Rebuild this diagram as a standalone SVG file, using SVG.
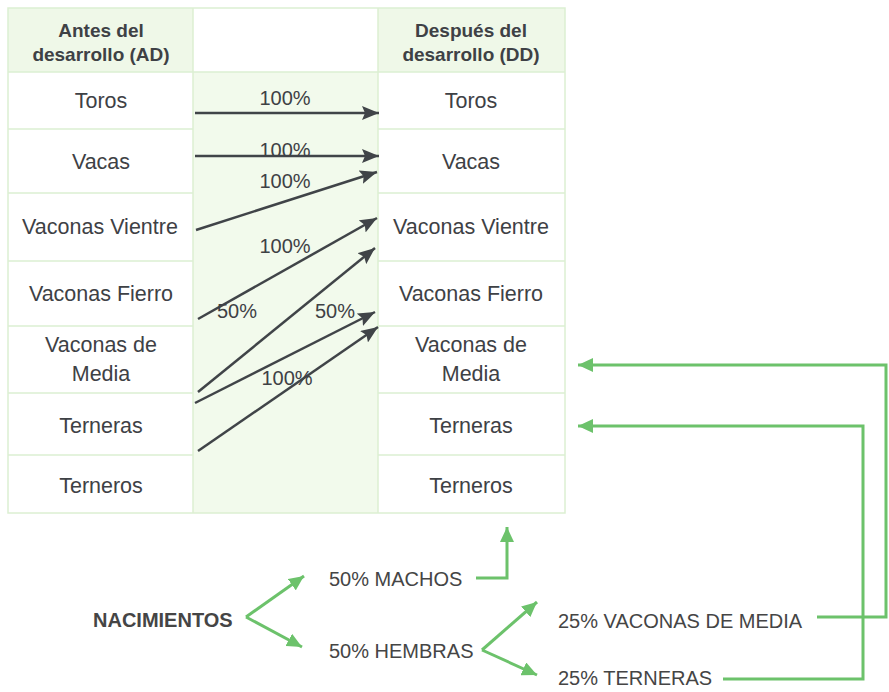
<svg xmlns="http://www.w3.org/2000/svg" width="889" height="692" viewBox="0 0 889 692">
<defs>
<style>
.cell{font-family:"Liberation Sans",Arial,sans-serif;font-size:21.5px;fill:#3e4145;text-anchor:middle}
.hdr{font-family:"Liberation Sans",Arial,sans-serif;font-size:19px;font-weight:bold;fill:#3e4145;text-anchor:middle}
.pct{font-family:"Liberation Sans",Arial,sans-serif;font-size:20px;fill:#3e4145;text-anchor:middle}
.lbl{font-family:"Liberation Sans",Arial,sans-serif;font-size:20px;fill:#454545}
.bold{font-weight:bold}
.grid{stroke:#dcefd2;stroke-width:1.5;fill:none}
.dark{stroke:#404448;stroke-width:2.5;fill:none;marker-end:url(#ah)}
.green{stroke:#6cc26b;stroke-width:3;fill:none;stroke-linejoin:miter;marker-end:url(#gh)}
</style>
<marker id="ah" markerUnits="userSpaceOnUse" markerWidth="18" markerHeight="14" viewBox="0 0 18 14" refX="17" refY="7" orient="auto">
<path d="M0,0 L17,7 L0,14 L3,7 Z" fill="#404448"/>
</marker>
<marker id="gh" markerUnits="userSpaceOnUse" markerWidth="16" markerHeight="14" viewBox="0 0 16 14" refX="15" refY="7" orient="auto">
<path d="M0,0 L15,7 L0,14 Z" fill="#6cc26b"/>
</marker>
</defs>
<rect width="889" height="692" fill="#ffffff"/>
<g id="table">
<rect x="8" y="8" width="185" height="64" fill="#eff8e8"/>
<rect x="378" y="8" width="187" height="64" fill="#eff8e8"/>
<rect x="193" y="72" width="185" height="441" fill="#f2faec"/>
<rect x="8" y="8" width="557" height="505" class="grid"/>
<line x1="193" y1="8" x2="193" y2="513" class="grid"/>
<line x1="378" y1="8" x2="378" y2="513" class="grid"/>
<path class="grid" d="M8,72H565 M8,129H193 M378,129H565 M8,193H193 M378,193H565 M8,261H193 M378,261H565 M8,326H193 M378,326H565 M8,393H193 M378,393H565 M8,455H193 M378,455H565"/>
</g>
<g id="ad-header"><text class="hdr" x="101" y="37">Antes del</text><text class="hdr" x="101" y="61">desarrollo (AD)</text></g>
<g id="dd-header"><text class="hdr" x="471" y="37">Después del</text><text class="hdr" x="471" y="61">desarrollo (DD)</text></g>
<g id="ad-toros"><text class="cell" x="101" y="108">Toros</text></g>
<g id="ad-vacas"><text class="cell" x="101" y="169">Vacas</text></g>
<g id="ad-vvientre"><text class="cell" x="100" y="234">Vaconas Vientre</text></g>
<g id="ad-vfierro"><text class="cell" x="101" y="301">Vaconas Fierro</text></g>
<g id="ad-vmedia"><text class="cell" x="101" y="352">Vaconas de</text><text class="cell" x="101" y="381">Media</text></g>
<g id="ad-terneras"><text class="cell" x="101" y="433">Terneras</text></g>
<g id="ad-terneros"><text class="cell" x="101" y="493">Terneros</text></g>
<g id="dd-toros"><text class="cell" x="471" y="108">Toros</text></g>
<g id="dd-vacas"><text class="cell" x="471" y="169">Vacas</text></g>
<g id="dd-vvientre"><text class="cell" x="471" y="234">Vaconas Vientre</text></g>
<g id="dd-vfierro"><text class="cell" x="471" y="301">Vaconas Fierro</text></g>
<g id="dd-vmedia"><text class="cell" x="471" y="352">Vaconas de</text><text class="cell" x="471" y="381">Media</text></g>
<g id="dd-terneras"><text class="cell" x="471" y="433">Terneras</text></g>
<g id="dd-terneros"><text class="cell" x="471" y="493">Terneros</text></g>
<g id="nacimientos"><text class="lbl bold" x="93" y="627">NACIMIENTOS</text></g>
<g id="machos"><text class="lbl" x="329" y="586">50% MACHOS</text></g>
<g id="hembras"><text class="lbl" x="329" y="658">50% HEMBRAS</text></g>
<g id="vmedia25"><text class="lbl" x="558" y="628">25% VACONAS DE MEDIA</text></g>
<g id="terneras25"><text class="lbl" x="558" y="685">25% TERNERAS</text></g>
<g id="connectors">
<line class="dark" x1="195" y1="113" x2="379" y2="113"/>
<line class="dark" x1="195" y1="156" x2="379" y2="156"/>
<line class="dark" x1="196" y1="230" x2="377" y2="172"/>
<line class="dark" x1="198" y1="319" x2="377" y2="218"/>
<line class="dark" x1="198" y1="392" x2="375" y2="248"/>
<line class="dark" x1="195" y1="403" x2="375" y2="312"/>
<line class="dark" x1="198" y1="451" x2="378" y2="327"/>
<text class="pct" x="285" y="105">100%</text>
<text class="pct" x="285" y="157">100%</text>
<text class="pct" x="285" y="188">100%</text>
<text class="pct" x="285" y="253">100%</text>
<text class="pct" x="237" y="318">50%</text>
<text class="pct" x="335" y="318">50%</text>
<text class="pct" x="287" y="385">100%</text>
<line class="green" x1="246" y1="617" x2="304" y2="576"/>
<line class="green" x1="246" y1="617" x2="302" y2="647"/>
<polyline class="green" points="476,578 507,578 507,527"/>
<line class="green" x1="482" y1="650" x2="537" y2="602"/>
<line class="green" x1="482" y1="650" x2="537" y2="675"/>
<polyline class="green" points="817,617 886,617 886,365 578,365"/>
<polyline class="green" points="723,679 863,679 863,426 578,426"/>
</g>
</svg>
